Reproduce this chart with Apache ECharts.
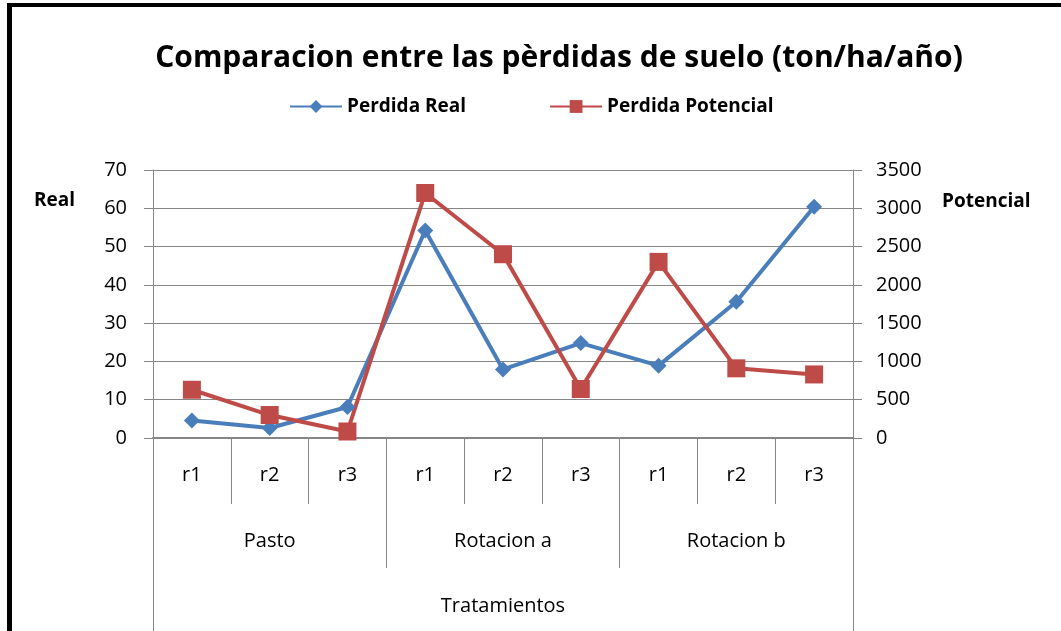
<!DOCTYPE html>
<html>
<head>
<meta charset="utf-8">
<script src="https://cdn.jsdelivr.net/npm/echarts@6/dist/echarts.min.js"></script>
<style>
  html, body { margin: 0; padding: 0; background: #fff; }
  #chart { width: 1061px; height: 631px; }
</style>
</head>
<body>
<div id="chart"></div>
<script>
// data
const reps = ["r1", "r2", "r3", "r1", "r2", "r3", "r1", "r2", "r3"]
const groups = ["Pasto", "Rotacion a", "Rotacion b"]
const realLoss = [4.6, 2.6, 8.1, 54.2, 17.9, 24.8, 18.9, 35.6, 60.4]
const potentialLoss = [630, 300, 85, 3200, 2400, 640, 2300, 910, 830]
const realScale = { min: 0, max: 70, interval: 10 }
const potentialScale = { min: 0, max: 3500, interval: 500 }

const FONT = "Open Sans"
const GRAY = "#868686"
const BLUE = "#4A7EBB"
const RED = "#BE4B48"

const chart = echarts.init(document.getElementById("chart"))

// category axis used only for its tick lines (the table lines under the plot)
function tickOnlyAxis(data, offset, length) {
  return {
    type: "category",
    data: data,
    position: "bottom",
    offset: offset,
    axisLine: { show: false },
    axisTick: { show: true, interval: 0, length: length, lineStyle: { color: GRAY } },
    axisLabel: { show: false },
    splitLine: { show: false },
  }
}

const option = {
  backgroundColor: "#fff",
  animation: false,
  textStyle: { fontFamily: FONT },
  title: {
    text: "Comparacion entre las pèrdidas de suelo (ton/ha/año)",
    left: 554,
    textAlign: "center",
    top: 38,
    textStyle: { fontFamily: FONT, fontSize: 30, fontWeight: "bold", color: "#000" },
  },
  legend: {
    top: 97,
    left: 289,
    padding: 0,
    itemWidth: 52,
    itemHeight: 16,
    itemGap: 83,
    textStyle: { fontFamily: FONT, fontSize: 19, fontWeight: "bold", color: "#000" },
  },
  grid: { left: 153, right: 208, top: 170, bottom: 193, containLabel: false },
  xAxis: [
    {
      type: "category",
      data: reps,
      position: "bottom",
      axisLine: { show: true, lineStyle: { color: GRAY, width: 2 } },
      axisTick: { show: true, interval: 0, length: 66, lineStyle: { color: GRAY } },
      axisLabel: { interval: 0, margin: 27, fontSize: 20, color: "#000", fontFamily: FONT },
      splitLine: { show: false },
    },
    {
      type: "category",
      data: groups,
      position: "bottom",
      offset: 66,
      axisLine: { show: false },
      axisTick: { show: false },
      axisLabel: { interval: 0, margin: 27, fontSize: 20, color: "#000", fontFamily: FONT },
      splitLine: { show: false },
    },
    tickOnlyAxis(groups.map(() => ""), 66, 64),
    Object.assign(tickOnlyAxis([""], 130, 70), {
      name: "Tratamientos",
      nameLocation: "middle",
      nameGap: 28,
      nameTextStyle: { fontSize: 20, color: "#000", fontFamily: FONT },
    }),
  ],
  yAxis: [
    {
      type: "value",
      position: "left",
      min: realScale.min,
      max: realScale.max,
      interval: realScale.interval,
      axisLine: { show: true, lineStyle: { color: GRAY } },
      axisTick: { show: true, length: 9, lineStyle: { color: GRAY } },
      axisLabel: { margin: 26, fontSize: 20, color: "#000", fontFamily: FONT },
      splitLine: { show: true, lineStyle: { color: GRAY } },
      name: "Real",
      nameLocation: "end",
      nameGap: -31,
      nameTextStyle: {
        fontSize: 19, fontWeight: "bold", color: "#000", fontFamily: FONT,
        align: "right", verticalAlign: "middle", padding: [0, 78, 0, 0],
      },
    },
    {
      type: "value",
      position: "right",
      min: potentialScale.min,
      max: potentialScale.max,
      interval: potentialScale.interval,
      axisLine: { show: true, lineStyle: { color: GRAY } },
      axisTick: { show: true, length: 9, lineStyle: { color: GRAY } },
      axisLabel: {
        margin: 23, fontSize: 20, color: "#000", fontFamily: FONT,
        formatter: (v) => String(v),
      },
      splitLine: { show: false },
      name: "Potencial",
      nameLocation: "end",
      nameGap: -32,
      nameTextStyle: {
        fontSize: 19, fontWeight: "bold", color: "#000", fontFamily: FONT,
        align: "left", verticalAlign: "middle", padding: [0, 0, 0, 89],
      },
    },
  ],
  series: [
    {
      name: "Perdida Real",
      type: "line",
      data: realLoss,
      xAxisIndex: 0,
      yAxisIndex: 0,
      symbol: "diamond",
      symbolSize: 16,
      lineStyle: { color: BLUE, width: 4 },
      itemStyle: { color: BLUE },
    },
    {
      name: "Perdida Potencial",
      type: "line",
      data: potentialLoss,
      xAxisIndex: 0,
      yAxisIndex: 1,
      symbol: "rect",
      symbolSize: 18,
      lineStyle: { color: RED, width: 4 },
      itemStyle: { color: RED },
    },
  ],
  graphic: [
    // black frame on the top and left edges of the picture
    { type: "rect", left: 7, top: 3, shape: { width: 1054, height: 4 }, style: { fill: "#000" } },
    { type: "rect", left: 7, top: 3, shape: { width: 5, height: 628 }, style: { fill: "#000" } },
  ],
}

chart.setOption(option)
</script>
</body>
</html>
